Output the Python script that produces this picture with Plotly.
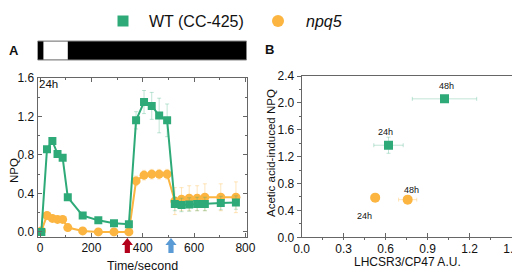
import plotly.graph_objects as go

# ---------------- data ----------------
time_s = [5, 27, 48, 68, 88, 108, 166, 227, 288, 346, 374, 405, 435, 464, 495,
          525, 551, 581, 612, 642, 704, 763]
npq_wt = [0.0, 0.86, 0.945, 0.81, 0.77, 0.36, 0.17, 0.12, 0.09, 0.08, 1.16, 1.35,
          1.31, 1.21, 1.16, 0.29, 0.28, 0.285, 0.29, 0.29, 0.30, 0.305]
npq_wt_err = [0.0, 0.02, 0.02, 0.02, 0.02, 0.02, 0.02, 0.02, 0.02, 0.02, 0.09, 0.12,
              0.14, 0.18, 0.17, 0.07, 0.07, 0.07, 0.07, 0.07, 0.07, 0.07]
npq_m = [0.01, 0.17, 0.14, 0.13, 0.13, 0.045, 0.01, 0.0, 0.0, 0.0, 0.53, 0.59,
         0.60, 0.60, 0.60, 0.32, 0.34, 0.35, 0.35, 0.36, 0.36, 0.36]
npq_m_err = [0.0, 0.02, 0.02, 0.02, 0.02, 0.02, 0.01, 0.01, 0.01, 0.01, 0.05, 0.05,
             0.05, 0.05, 0.05, 0.14, 0.12, 0.13, 0.13, 0.14, 0.14, 0.16]

b_labels = ["24h", "48h"]
lhcsr_wt = [0.62, 1.02]
lhcsr_wt_err = [0.105, 0.23]
acnpq_wt = [1.37, 2.06]
acnpq_wt_err = [0.12, 0.03]
lhcsr_m = [0.525, 0.757]
lhcsr_m_err = [0.03, 0.065]
acnpq_m = [0.59, 0.56]
acnpq_m_err = [0.02, 0.02]

series_names = ["WT (CC-425)", "<i>npq5</i>"]
light_on = [13, 108]         # white section of the light bar (s)
arrow_times = [340, 510]     # acid addition / removal
arrow_colors = ["#b3001b", "#5b9bd5"]

GREEN = "#2eaa78"
ORANGE = "#fbb540"
GREEN_E = "rgba(46,170,120,0.3)"
ORANGE_E = "rgba(251,181,64,0.35)"
FONT = "Liberation Sans, Arial, sans-serif"

# The page body has an 8px margin: the figure is laid out in window pixels.
W, H, OFF = 512, 266, 8


def xp(px):
    return (px - OFF) / W


def yp(py):
    return 1 - (py - OFF) / H


fig = go.Figure()

# Panel A
fig.add_trace(go.Scatter(x=time_s, y=npq_m, mode="lines+markers", xaxis="x", yaxis="y",
                         line=dict(color=ORANGE, width=2),
                         marker=dict(symbol="circle", size=9, color=ORANGE),
                         error_y=dict(type="data", array=npq_m_err, color=ORANGE_E,
                                      thickness=1, width=2),
                         showlegend=False))
fig.add_trace(go.Scatter(x=time_s, y=npq_wt, mode="lines+markers", xaxis="x", yaxis="y",
                         line=dict(color=GREEN, width=2),
                         marker=dict(symbol="square", size=8, color=GREEN),
                         error_y=dict(type="data", array=npq_wt_err, color=GREEN_E,
                                      thickness=1, width=2),
                         showlegend=False))

# Panel B
fig.add_trace(go.Scatter(x=lhcsr_wt, y=acnpq_wt, mode="markers", xaxis="x2", yaxis="y2",
                         marker=dict(symbol="square", size=9, color=GREEN),
                         error_x=dict(type="data", array=lhcsr_wt_err, color=GREEN_E,
                                      thickness=1, width=2),
                         error_y=dict(type="data", array=acnpq_wt_err, color=GREEN_E,
                                      thickness=1, width=2),
                         showlegend=False))
fig.add_trace(go.Scatter(x=lhcsr_m, y=acnpq_m, mode="markers", xaxis="x2", yaxis="y2",
                         marker=dict(symbol="circle", size=10, color=ORANGE),
                         error_x=dict(type="data", array=lhcsr_m_err, color=ORANGE_E,
                                      thickness=1, width=2),
                         error_y=dict(type="data", array=acnpq_m_err, color=ORANGE_E,
                                      thickness=1, width=2),
                         showlegend=False))

axA = dict(showline=True, linecolor="#666", linewidth=1, mirror="ticks",
           ticks="inside", ticklen=4, tickcolor="#666", showgrid=False, zeroline=False,
           tickfont=dict(size=12, color="#111"), automargin=False,
           minor=dict(ticks="inside", ticklen=2, tickcolor="#666"))
axB = dict(showline=True, linecolor="#666", linewidth=1, mirror=True,
           ticklen=4, tickcolor="#666", showgrid=False, zeroline=False,
           tickfont=dict(size=12, color="#111"), automargin=False,
           ticklabeloverflow="allow",
           minor=dict(ticks="outside", ticklen=2, tickcolor="#666"))

fig.update_layout(
    width=W, height=H,
    margin=dict(l=0, r=0, t=0, b=0, autoexpand=False),
    paper_bgcolor="white", plot_bgcolor="white",
    font=dict(family=FONT, color="#111"),
    showlegend=False,
    xaxis=dict(axA, domain=[xp(37.5), xp(246.7)], range=[-10, 805], dtick=200, tick0=0,
               minor_dtick=100),
    yaxis=dict(axA, domain=[yp(236.7), yp(78)], range=[-0.05, 1.6], dtick=0.4, tick0=0,
               tickformat=".1f", minor_dtick=0.2),
    xaxis2=dict(axB, domain=[xp(301.7), xp(511.7)], range=[0, 1.5], dtick=0.3, tick0=0,
                tickformat=".1f", ticks="inside", minor_dtick=0.15, anchor="y2"),
    yaxis2=dict(axB, domain=[yp(237.3), yp(76)], range=[0, 2.4], dtick=0.4, tick0=0,
                tickformat=".1f", ticks="outside", minor_dtick=0.2, anchor="x2"),
)

shapes = []
# light bar (black with white light period)
shapes.append(dict(type="rect", xref="x", yref="paper", x0=-10, x1=805,
                   y0=yp(60), y1=yp(41), fillcolor="black",
                   line=dict(color="#888", width=1), layer="above"))
shapes.append(dict(type="rect", xref="x", yref="paper", x0=light_on[0], x1=light_on[1],
                   y0=yp(59.5), y1=yp(41.5), fillcolor="white",
                   line=dict(width=0), layer="above"))
# arrows
for t, c in zip(arrow_times, arrow_colors):
    shapes.append(dict(type="path", xref="x", yref="paper", xsizemode="pixel",
                       ysizemode="pixel", xanchor=t, yanchor=yp(253),
                       path="M-2.6,0 L2.6,0 L2.6,8 L5.6,8 L0,15 L-5.6,8 L-2.6,8 Z",
                       fillcolor=c, line=dict(width=0), layer="above"))
# legend symbols
shapes.append(dict(type="rect", xref="paper", yref="paper",
                   x0=xp(117.5), x1=xp(128.5), y0=yp(26.5), y1=yp(15.5),
                   fillcolor=GREEN, line=dict(width=0)))
shapes.append(dict(type="circle", xref="paper", yref="paper",
                   x0=xp(272), x1=xp(284), y0=yp(27), y1=yp(15),
                   fillcolor=ORANGE, line=dict(width=0)))
fig.update_layout(shapes=shapes)


def txt(text, px, py, size, xanchor="center", angle=0):
    return dict(text=text, x=xp(px), y=yp(py), xref="paper", yref="paper",
                xanchor=xanchor, yanchor="middle", showarrow=False, textangle=angle,
                font=dict(size=size))


ann = [
    txt(series_names[0], 147, 21, 16, "left"),
    txt(series_names[1], 304, 21, 16, "left"),
    txt("<b>A</b>", 14, 51, 13),
    txt("<b>B</b>", 269, 49, 13),
    txt("24h", 37, 84, 11.5, "left"),
    txt("Time/second", 142, 266, 12.5),
    txt("NPQ", 14, 171, 11.5, angle=-90),
    txt("LHCSR3/CP47 A.U.", 407, 262, 12),
    txt("Acetic acid-induced NPQ", 271, 153, 11.5, angle=-90),
]
# panel B point labels
label_offsets_wt = [(-3, 13), (2, 13)]
for i, lab in enumerate(b_labels):
    ann.append(dict(text=lab, x=lhcsr_wt[i], y=acnpq_wt[i], xref="x2", yref="y2",
                    showarrow=False, font=dict(size=9),
                    xshift=label_offsets_wt[i][0], yshift=label_offsets_wt[i][1]))
label_offsets_m = [(-11, -18), (4, 10)]
for i, lab in enumerate(b_labels):
    ann.append(dict(text=lab, x=lhcsr_m[i], y=acnpq_m[i], xref="x2", yref="y2",
                    showarrow=False, font=dict(size=9),
                    xshift=label_offsets_m[i][0], yshift=label_offsets_m[i][1]))
fig.update_layout(annotations=ann)

fig.write_html("out.html")
